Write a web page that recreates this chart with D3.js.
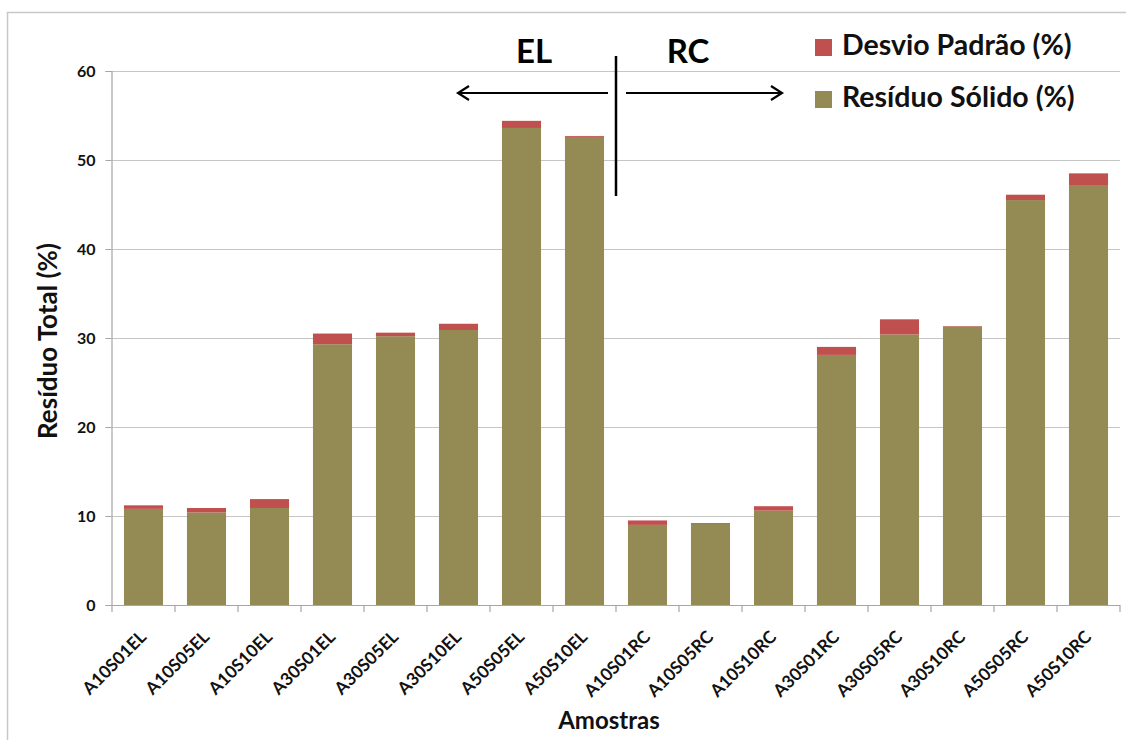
<!DOCTYPE html>
<html><head><meta charset="utf-8">
<script src="https://cdn.jsdelivr.net/npm/d3@7"></script>
<style>
body{margin:0;background:#fff;}
text{font-family:Lato,"Open Sans",sans-serif;}
</style></head>
<body><svg id="c" width="1126" height="740"></svg>
<script>
const categories = ["A10S01EL","A10S05EL","A10S10EL","A30S01EL","A30S05EL","A30S10EL","A50S05EL","A50S10EL",
  "A10S01RC","A10S05RC","A10S10RC","A30S01RC","A30S05RC","A30S10RC","A50S05RC","A50S10RC"];
const residuoSolido = [10.8,10.4,10.9,29.3,30.2,30.9,53.6,52.6,9.0,9.1,10.6,28.1,30.4,31.3,45.5,47.1];
const desvioPadrao  = [0.4,0.5,1.0,1.2,0.4,0.7,0.8,0.1,0.5,0.1,0.5,0.9,1.7,0.05,0.6,1.4];
const yTicks = [0,10,20,30,40,50,60];

const svg = d3.select("#c");
const m = {left:112};
const oliveC = "#948A54", redC = "#C0504D";

// chart border
svg.append("rect").attr("x",7.5).attr("y",12.5).attr("width",1140).attr("height",760)
  .attr("fill","none").attr("stroke","#c8c8c8").attr("stroke-width",1.5);

const x = d3.scaleBand().domain(categories).range([m.left, 1120]).paddingInner(0.38).paddingOuter(0.19);
const y = d3.scaleLinear().domain([0,60]).range([605, 71]);

// gridlines
svg.append("g").selectAll("line").data(yTicks.filter(d=>d>0)).join("line")
  .attr("x1",m.left).attr("x2",1120).attr("y1",d=>y(d)+0.5).attr("y2",d=>y(d)+0.5)
  .attr("stroke","#c6c6c6").attr("stroke-width",1.2);

// y axis
const yAxis = d3.axisLeft(y).tickValues(yTicks).tickSize(6).tickPadding(10).tickFormat(d3.format("d"));
const gy = svg.append("g").attr("transform",`translate(${m.left-0.5},0)`).call(yAxis);
gy.select(".domain").attr("stroke","#a6a6a6").attr("stroke-width",1.2);
gy.selectAll(".tick line").attr("stroke","#a6a6a6");
gy.selectAll(".tick text").attr("font-size",16).attr("font-weight","bold").attr("fill","#111")
  .style("font-family","Lato,sans-serif");

// x axis baseline and ticks at boundaries
svg.append("line").attr("x1",m.left).attr("x2",1120).attr("y1",y(0)+0.5).attr("y2",y(0)+0.5)
  .attr("stroke","#a6a6a6").attr("stroke-width",1.2);
const step = x.step();
const bounds = d3.range(categories.length+1).map(i=>m.left + i*step);
svg.append("g").selectAll("line").data(bounds).join("line")
  .attr("x1",d=>d).attr("x2",d=>d).attr("y1",y(0)).attr("y2",y(0)+7)
  .attr("stroke","#a6a6a6").attr("stroke-width",1.2);

// bars
const gb = svg.append("g");
categories.forEach((c,i)=>{
  const s = residuoSolido[i], d = desvioPadrao[i];
  gb.append("rect").attr("x",x(c)).attr("width",x.bandwidth())
    .attr("y",y(s)).attr("height",y(0)-y(s)).attr("fill",oliveC);
  gb.append("rect").attr("x",x(c)).attr("width",x.bandwidth())
    .attr("y",y(s+d)).attr("height",y(s)-y(s+d)).attr("fill",redC);
});

// x labels
svg.append("g").selectAll("text").data(categories).join("text")
  .attr("transform",d=>`translate(${x(d)+x.bandwidth()/2+4},${y(0)+33}) rotate(-45)`)
  .attr("text-anchor","end").attr("font-size",17.5).attr("font-weight","bold").attr("fill","#111")
  .text(d=>d);

// axis titles
svg.append("text").attr("transform","translate(57,341) rotate(-90)").attr("text-anchor","middle")
  .attr("font-size",26).attr("font-weight","bold").attr("fill","#111").text("Resíduo Total (%)");
svg.append("text").attr("x",609).attr("y",729).attr("text-anchor","middle")
  .attr("font-size",24).attr("font-weight","bold").attr("fill","#111").text("Amostras");

// EL / RC annotation
const divX = m.left + 8*step;
svg.append("line").attr("x1",divX).attr("x2",divX).attr("y1",56).attr("y2",196)
  .attr("stroke","#000").attr("stroke-width",2.5);
svg.append("text").attr("x",534).attr("y",63).attr("text-anchor","middle").attr("font-size",33)
  .attr("font-weight","bold").attr("fill","#000").text("EL");
svg.append("text").attr("x",688).attr("y",63).attr("text-anchor","middle").attr("font-size",33)
  .attr("font-weight","bold").attr("fill","#000").text("RC");
const ay = 93;
svg.append("line").attr("x1",divX-8).attr("x2",459).attr("y1",ay).attr("y2",ay).attr("stroke","#000").attr("stroke-width",2.2);
svg.append("path").attr("d",`M${469},${ay-7} L${458},${ay} L${469},${ay+7}`).attr("fill","none").attr("stroke","#000").attr("stroke-width",2.2);
svg.append("line").attr("x1",divX+10).attr("x2",781).attr("y1",ay).attr("y2",ay).attr("stroke","#000").attr("stroke-width",2.2);
svg.append("path").attr("d",`M${771},${ay-7} L${782},${ay} L${771},${ay+7}`).attr("fill","none").attr("stroke","#000").attr("stroke-width",2.2);

// legend
const legend = [{label:"Desvio Padrão (%)",color:redC,base:55},{label:"Resíduo Sólido (%)",color:oliveC,base:107}];
const lg = svg.append("g");
legend.forEach(l=>{
  lg.append("rect").attr("x",815).attr("y",l.base-16).attr("width",17).attr("height",17).attr("fill",l.color);
  lg.append("text").attr("x",842).attr("y",l.base).attr("font-size",28.5).attr("font-weight","bold")
    .attr("fill","#111").text(l.label);
});
</script></body></html>
